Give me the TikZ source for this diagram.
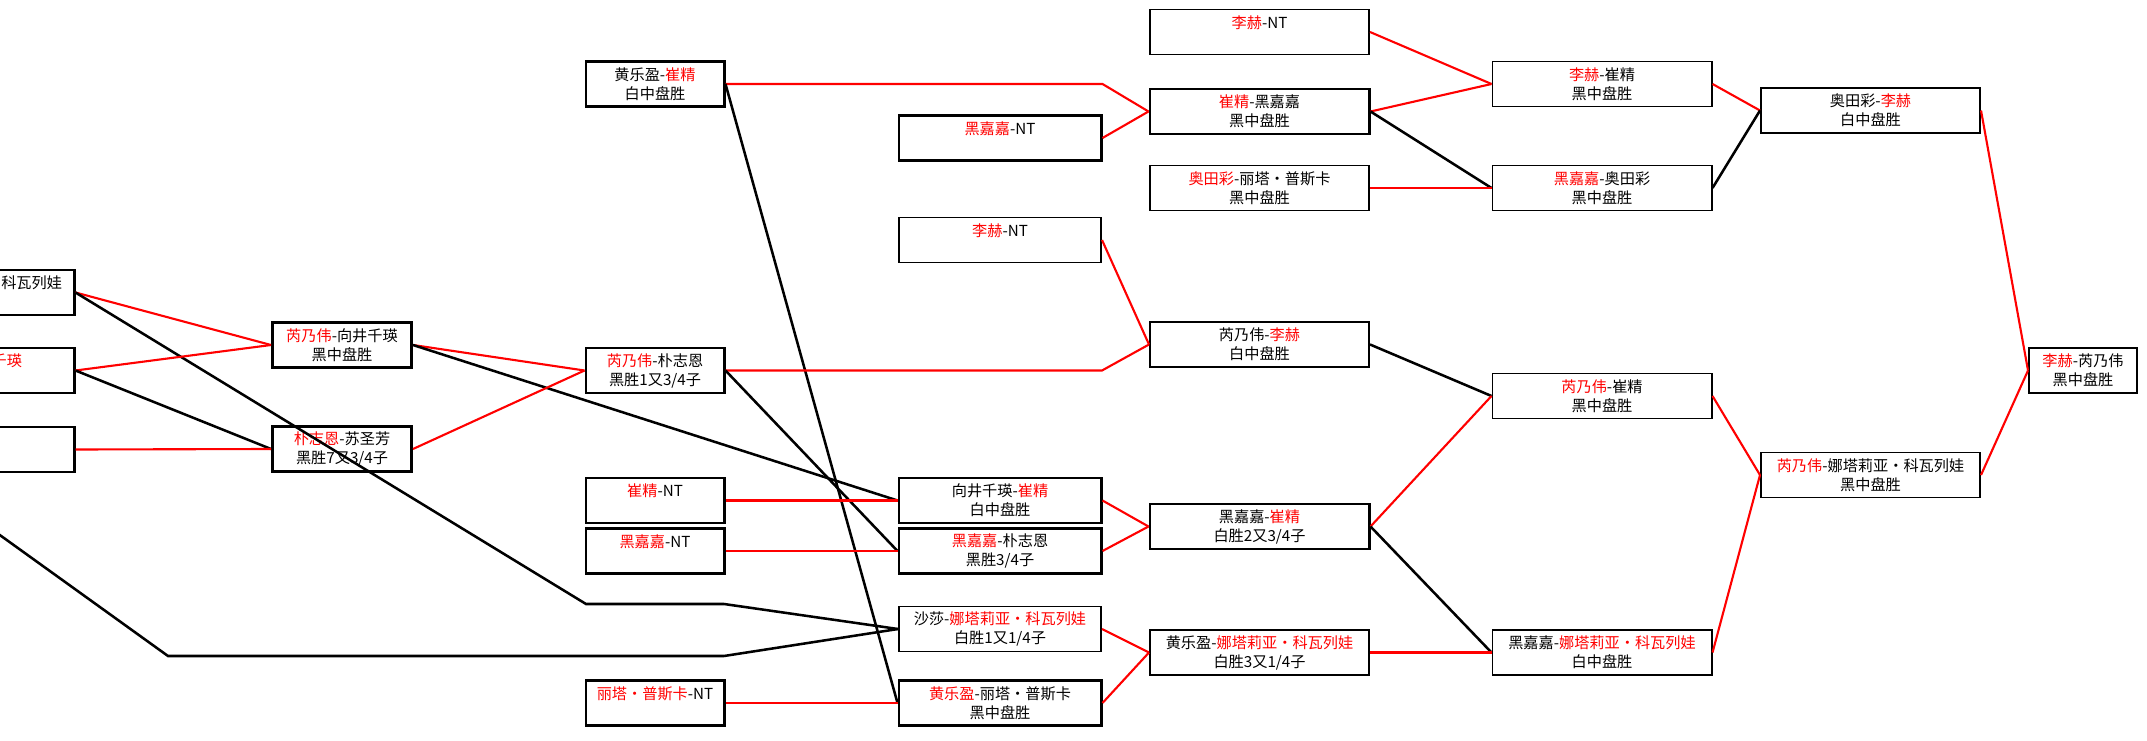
\documentclass[tikz,border=0pt]{standalone}
\usepackage{fontspec}
\newfontfamily\cjk{Noto Sans CJK SC}
\usepackage{tikz}
\newcommand{\rname}[1]{\textcolor{red}{#1}}

\begin{document}
\begin{tikzpicture}[x=0.025cm, y=-0.025cm,
    game/.style={draw, fill=white, line width=1.4pt, minimum height=1.125cm, align=center, inner sep=1pt, font=\cjk\fontsize{10.8pt}{13.5pt}\selectfont},
    heavy/.style={game, line width=2.1pt},
    cut/.style={heavy, text width=4.65cm, inner xsep=0.15cm, align=right},
    col2/.style={minimum width=3.475cm},
    col3/.style={minimum width=3.45cm},
    col4/.style={minimum width=5.05cm},
    col5/.style={minimum width=5.475cm},
    col8/.style={minimum width=2.7cm},
    win/.style={red, line width=1.5pt},
    lose/.style={black, line width=1.8pt}]
      \useasboundingbox (0,0) rectangle (2147,741);
      \clip (0,0) rectangle (2147,741);

      \node[cut] (c1a) at (-25,292.5) {科瓦列娃\kern0.15cm\\\phantom{白}};
      \node[cut] (c1b) at (-25,370.5) {\rname{千瑛}\kern1.15cm\\\phantom{白}};
      \node[cut] (c1c) at (-25,449.5) {\phantom{白}\\\phantom{白}};

      \node[heavy, col2] (c2a) at (342,345) {\rname{芮乃伟}-向井千瑛\\黑中盘胜};
      \node[heavy, col2] (c2b) at (342,449) {\rname{朴志恩}-苏圣芳\\黑胜7又3/4子};

      \node[heavy, col3] (c3a) at (655,84) {黄乐盈-\rname{崔精}\\白中盘胜};
      \node[heavy, col3] (c3b) at (655,370.5) {\rname{芮乃伟}-朴志恩\\黑胜1又3/4子};
      \node[heavy, col3] (c3c) at (655,500.5) {\rname{崔精}-NT\\\phantom{白}};
      \node[heavy, col3] (c3d) at (655,551) {\rname{黑嘉嘉}-NT\\\phantom{白}};
      \node[heavy, col3] (c3e) at (655,703) {\rname{丽塔・普斯卡}-NT\\\phantom{白}};

      \node[heavy, col4] (c4a) at (1000,138) {\rname{黑嘉嘉}-NT\\\phantom{白}};
      \node[game, col4] (c4b) at (1000,240) {\rname{李赫}-NT\\\phantom{白}};
      \node[heavy, col4] (c4c) at (1000,500.5) {向井千瑛-\rname{崔精}\\白中盘胜};
      \node[heavy, col4] (c4d) at (1000,551) {\rname{黑嘉嘉}-朴志恩\\黑胜3/4子};
      \node[game, col4] (c4e) at (1000,629) {沙莎-\rname{娜塔莉亚・科瓦列娃}\\白胜1又1/4子};
      \node[heavy, col4] (c4f) at (1000,703) {\rname{黄乐盈}-丽塔・普斯卡\\黑中盘胜};

      \node[game, col5] (c5a) at (1259.5,32) {\rname{李赫}-NT\\\phantom{白}};
      \node[heavy, col5] (c5b) at (1259.5,111.5) {\rname{崔精}-黑嘉嘉\\黑中盘胜};
      \node[game, col5] (c5c) at (1259.5,188) {\rname{奥田彩}-丽塔・普斯卡\\黑中盘胜};
      \node[game, col5] (c5d) at (1259.5,344.5) {芮乃伟-\rname{李赫}\\白中盘胜};
      \node[heavy, col5] (c5e) at (1259.5,526.5) {黑嘉嘉-\rname{崔精}\\白胜2又3/4子};
      \node[game, col5] (c5f) at (1259.5,652.5) {黄乐盈-\rname{娜塔莉亚・科瓦列娃}\\白胜3又1/4子};

      \node[game, col5] (c6a) at (1602,84) {\rname{李赫}-崔精\\黑中盘胜};
      \node[game, col5] (c6b) at (1602,188) {\rname{黑嘉嘉}-奥田彩\\黑中盘胜};
      \node[game, col5] (c6c) at (1602,396) {\rname{芮乃伟}-崔精\\黑中盘胜};
      \node[game, col5] (c6d) at (1602,652.5) {黑嘉嘉-\rname{娜塔莉亚・科瓦列娃}\\白中盘胜};

      \node[game, col5] (c7a) at (1870.5,110.5) {奥田彩-\rname{李赫}\\白中盘胜};
      \node[game, col5] (c7b) at (1870.5,475) {\rname{芮乃伟}-娜塔莉亚・科瓦列娃\\黑中盘胜};

      \node[game, col8] (c8a) at (2083,370.5) {\rname{李赫}-芮乃伟\\黑中盘胜};

      \coordinate (c0) at (-60,492);
      \coordinate (k1) at (586,604);
      \coordinate (k2) at (724,604);
      \coordinate (k3) at (168,656);
      \coordinate (k4) at (724,656);

      \draw[win] (c1a.east) -- (c2a.west);
      \draw[lose] (c1a.east) -- (k1) -- (k2) -- (c4e.west);
      \draw[win] (c1b.east) -- (c2a.west);
      \draw[lose] (c1b.east) -- (c2b.west);
      \draw[win] (c1c.east) -- (c2b.west);
      \draw[lose] (c0) -- (k3) -- (k4) -- (c4e.west);

      \draw[win] (c2a.east) -- (c3b.west);
      \draw[lose] (c2a.east) -- (c4c.west);
      \draw[win] (c2b.east) -- (c3b.west);

      \draw[win] (c3a.east) -- (c4a.east |- c3a.east) -- (c5b.west);
      \draw[lose] (c3a.east) -- (c4f.west);
      \draw[win] (c3b.east) -- (c4b.east |- c3b.east) -- (c5d.west);
      \draw[lose] (c3b.east) -- (c4d.west);
      \draw[win] (c3c.east) -- (c4c.west);
      \draw[win] (c3d.east) -- (c4d.west);
      \draw[win] (c3e.east) -- (c4f.west);

      \draw[win] (c4a.east) -- (c5b.west);
      \draw[win] (c4b.east) -- (c5d.west);
      \draw[win] (c4c.east) -- (c5e.west);
      \draw[win] (c4d.east) -- (c5e.west);
      \draw[win] (c4e.east) -- (c5f.west);
      \draw[win] (c4f.east) -- (c5f.west);

      \draw[win] (c5a.east) -- (c6a.west);
      \draw[win] (c5b.east) -- (c6a.west);
      \draw[lose] (c5b.east) -- (c6b.west);
      \draw[win] (c5c.east) -- (c6b.west);
      \draw[lose] (c5d.east) -- (c6c.west);
      \draw[win] (c5e.east) -- (c6c.west);
      \draw[lose] (c5e.east) -- (c6d.west);
      \draw[win] (c5f.east) -- (c6d.west);

      \draw[win] (c6a.east) -- (c7a.west);
      \draw[lose] (c6b.east) -- (c7a.west);
      \draw[win] (c6c.east) -- (c7b.west);
      \draw[win] (c6d.east) -- (c7b.west);

      \draw[win] (c7a.east) -- (c8a.west);
      \draw[win] (c7b.east) -- (c8a.west);
\end{tikzpicture}
\end{document}
